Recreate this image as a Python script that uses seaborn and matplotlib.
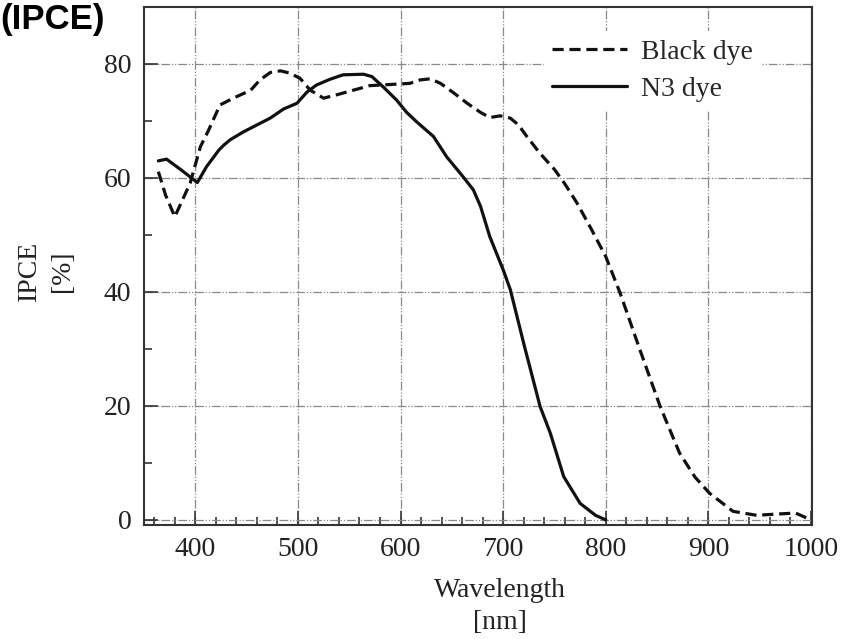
import numpy as np
import pandas as pd
import matplotlib
matplotlib.use("Agg")
import matplotlib.pyplot as plt
import seaborn as sns

# --- data (wavelength in nm, IPCE in %) ---
n3_wl = [364, 372, 387, 402, 411, 423, 428, 434, 447, 460, 473, 486, 499, 509,
         518, 531, 544, 564, 572, 583, 596, 606, 616, 632, 645, 661, 671, 678,
         687, 700, 707, 720, 736, 746, 759, 775, 790, 800]
n3_ipce = [63.0, 63.3, 61.3, 59.2, 62.0, 64.9, 65.8, 66.7, 68.1, 69.3, 70.5, 72.1,
           73.1, 75.1, 76.3, 77.3, 78.1, 78.2, 77.8, 76.0, 73.7, 71.5, 69.8, 67.3,
           63.7, 60.2, 57.9, 55.0, 49.7, 43.9, 40.4, 31.0, 19.9, 15.2, 7.6, 2.9,
           0.8, 0.0]

black_wl = [364, 371, 380, 395, 405, 413, 424, 437, 454, 463, 473, 483, 492, 502,
            512, 525, 538, 554, 570, 590, 609, 619, 629, 639, 652, 665, 678, 687,
            697, 707, 715, 723, 736, 750, 760, 772, 786, 800, 814, 833, 853, 872,
            887, 901, 924, 947, 965, 985, 1000]
black_ipce = [61.1, 57.0, 53.2, 59.1, 65.5, 68.4, 72.8, 74.0, 75.4, 77.2, 78.5, 78.8,
              78.4, 77.5, 75.4, 74.0, 74.6, 75.4, 76.2, 76.4, 76.6, 77.2, 77.4, 76.6,
              74.9, 73.1, 71.5, 70.6, 70.9, 70.5, 69.3, 67.3, 64.3, 61.5, 59.0, 55.6,
              51.0, 46.2, 39.8, 30.0, 19.9, 11.7, 7.5, 4.7, 1.5, 0.8, 1.0, 1.2, 0.0]

x_ticks = [400, 500, 600, 700, 800, 900, 1000]
y_ticks = [0, 20, 40, 60, 80]

sns.set_style("white")
plt.rcParams['font.family'] = ['Liberation Serif', 'DejaVu Serif']

fig = plt.figure(figsize=(8.54, 6.39), dpi=100)
ax = fig.add_axes([144 / 854, 1 - 525 / 639, 668 / 854, 518 / 639])

black_df = pd.DataFrame({'wl': black_wl, 'ipce': black_ipce})
n3_df = pd.DataFrame({'wl': n3_wl, 'ipce': n3_ipce})

sns.lineplot(data=black_df, x='wl', y='ipce', ax=ax, color='#111111', lw=2.3,
             linestyle=(0, (3.5, 1.8)), label='Black dye', sort=False)
sns.lineplot(data=n3_df, x='wl', y='ipce', ax=ax, color='#111111', lw=2.3,
             linestyle='-', label='N3 dye', sort=False)

ax.set_xlim(350, 1001)
ax.set_ylim(-0.9, 90)
ax.set_xticks(x_ticks)
ax.set_yticks(y_ticks)
ax.set_xticks(np.arange(360, 1001, 20), minor=True)
ax.set_yticks(np.arange(0, 90, 10), minor=True)

# dash-dot grey grid
ax.grid(True, which='major', color='#8a8a8a', lw=0.9,
        linestyle=(0, (7, 1.5, 1, 1.5, 1, 1.5)))
ax.set_axisbelow(True)

ax.tick_params(which='major', direction='in', length=10, width=1.2,
               labelsize=20, pad=9, colors='#333333', labelcolor='#222222')
ax.tick_params(which='minor', direction='in', length=6, width=1.2, colors='#333333')
ax.tick_params(axis='both', which='both', bottom=True, left=True, top=False, right=False)

for sp in ax.spines.values():
    sp.set_color('#333333')
    sp.set_linewidth(1.5)

ax.set_xlabel('Wavelength\n[nm]', fontsize=20, color='#222222', linespacing=1.4)
ax.xaxis.set_label_coords((500 - 144) / 668, -0.102)
ax.xaxis.label.set_va('top')
ax.set_ylabel('IPCE\n[%]', fontsize=20, color='#222222', linespacing=1.4)
ax.yaxis.set_label_coords(-0.104, 0.49)

leg = ax.legend(loc='upper right', bbox_to_anchor=(0.945, 0.98), fontsize=20,
                handlelength=2.7, handletextpad=0.5, labelspacing=0.4,
                frameon=True, fancybox=False, borderpad=0.3)
leg.get_frame().set_facecolor('white')
leg.get_frame().set_edgecolor('none')
leg.get_frame().set_alpha(1)

fig.text(0.0, 1 - 29 / 639, '(IPCE)', family='Liberation Sans', fontweight='bold',
         fontsize=25, va='baseline', ha='left', color='black')

fig.savefig('out.png', dpi=100)
